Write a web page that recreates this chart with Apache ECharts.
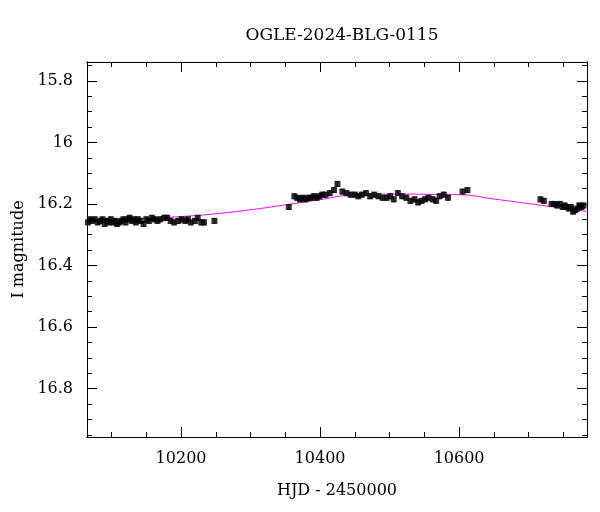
<!DOCTYPE html>
<html><head><meta charset="utf-8">
<script src="https://cdn.jsdelivr.net/npm/echarts@6/dist/echarts.min.js"></script>
<style>html,body{margin:0;padding:0;background:#fff}#c{width:600px;height:512px}</style>
</head><body><div id="c"></div>
<script>
const hjd = [10066,10069,10072,10076,10080,10084,10087,10090,10093,10096,10099,10102,10105,10108,10111,10114,10117,10120,10123,10126,10129,10132,10135,10138,10141,10146,10150,10154,10158,10162,10166,10170,10176,10180,10185,10190,10196,10201,10206,10210,10214,10220,10224,10229,10233,10248,
10355,10363,10367,10371,10375,10379,10383,10387,10391,10395,10399,10403,10408,10414,10420,10425,10432,10438,10444,10450,10455,10460,10466,10472,10478,10484,10490,10496,10501,10506,10512,10518,10524,10530,10536,10541,10546,10551,10556,10562,10567,10572,10578,10584,10605,10612,
10717,10722,10733,10737,10741,10745,10749,10752,10755,10758,10761,10764,10767,10770,10773,10776,10779];
const mag = [16.26,16.25,16.255,16.25,16.26,16.255,16.25,16.265,16.255,16.26,16.25,16.26,16.255,16.265,16.26,16.255,16.25,16.26,16.25,16.245,16.255,16.25,16.26,16.25,16.255,16.265,16.25,16.255,16.245,16.25,16.255,16.25,16.245,16.245,16.255,16.26,16.255,16.25,16.255,16.25,16.26,16.255,16.245,16.26,16.26,16.255,
16.21,16.175,16.18,16.185,16.18,16.185,16.18,16.18,16.175,16.18,16.175,16.17,16.17,16.165,16.155,16.135,16.16,16.165,16.17,16.17,16.175,16.17,16.165,16.175,16.17,16.175,16.18,16.18,16.175,16.185,16.165,16.175,16.18,16.19,16.185,16.195,16.19,16.185,16.18,16.185,16.19,16.175,16.17,16.18,16.16,16.155,
16.185,16.19,16.2,16.2,16.205,16.2,16.21,16.205,16.21,16.215,16.21,16.225,16.22,16.215,16.205,16.21,16.205];
const err = 0.008;
const modelT = [10060,10100,10150,10200,10250,10300,10350,10400,10440,10480,10520,10560,10600,10650,10700,10750,10790];
const modelM = [16.252,16.251,16.247,16.241,16.232,16.219,16.203,16.186,16.172,16.168,16.168,16.169,16.17,16.184,16.199,16.214,16.226];
const yMajor=[15.8,16,16.2,16.4,16.6,16.8], xMajor=[10200,10400,10600];
const yMinor=[],xMinor=[];
for(let v=15.75;v<16.96;v+=0.05)yMinor.push(+v.toFixed(2));
for(let v=10100;v<=10750;v+=50)xMinor.push(v);
const XMIN=10064.7,XMAX=10784,YMIN=15.739,YMAX=16.957;
const font='"DejaVu Serif", "Liberation Serif", serif';
function xa(pos,ticks,len,labels){return{type:'value',position:pos,min:XMIN,max:XMAX,
 axisLine:{show:true,onZero:false,lineStyle:{color:'#000',width:1}},
 axisTick:{show:true,inside:true,length:len,customValues:ticks,lineStyle:{color:'#000'}},
 axisLabel:{show:labels,customValues:ticks,color:'#000',fontFamily:font,fontSize:16,margin:14,formatter:v=>String(Math.round(v))},
 splitLine:{show:false},
 name:labels?'HJD - 2450000':'',nameLocation:'middle',nameGap:46,nameTextStyle:{color:'#000',fontFamily:font,fontSize:16}};}
function ya(pos,ticks,len,labels){return{type:'value',position:pos,inverse:true,min:YMIN,max:YMAX,
 axisLine:{show:true,onZero:false,lineStyle:{color:'#000',width:1}},
 axisTick:{show:true,inside:true,length:len,customValues:ticks,lineStyle:{color:'#000'}},
 axisLabel:{show:labels,customValues:ticks,color:'#000',fontFamily:font,fontSize:16,margin:14,formatter:v=>String(+v.toFixed(2))},
 splitLine:{show:false},
 name:labels?'I magnitude':'',nameLocation:'middle',nameGap:60,nameRotate:90,nameTextStyle:{color:'#000',fontFamily:font,fontSize:16}};}
const chart=echarts.init(document.getElementById('c'));
chart.setOption({
 animation:false,
 title:{text:'OGLE-2024-BLG-0115',left:337,top:22,textAlign:'center',textStyle:{fontFamily:font,fontWeight:'normal',fontSize:17,color:'#000'}},
 grid:{left:87,right:13,top:62,bottom:75},
 xAxis:[xa('bottom',xMajor,10,true),xa('bottom',xMinor,5,false),xa('top',xMajor,10,false),xa('top',xMinor,5,false)],
 yAxis:[ya('left',yMajor,10,true),ya('left',yMinor,5,false),ya('right',yMajor,10,false),ya('right',yMinor,5,false)],
 series:[
  {type:'line',data:modelT.map((t,i)=>[t,modelM[i]]),smooth:true,showSymbol:false,lineStyle:{color:'#ff00ff',width:1},clip:true,z:1},
  {type:'custom',clip:true,data:hjd.map((t,i)=>[t,mag[i]]),z:2,
   renderItem:(p,api)=>{const x=api.value(0),y=api.value(1);const a=api.coord([x,y-err]),b=api.coord([x,y+err]);
    return{type:'group',children:[
     {type:'line',shape:{x1:a[0],y1:a[1],x2:b[0],y2:b[1]},style:{stroke:'#555',lineWidth:1}},
     {type:'line',shape:{x1:a[0]-2,y1:a[1],x2:a[0]+2,y2:a[1]},style:{stroke:'#555',lineWidth:1}},
     {type:'line',shape:{x1:b[0]-2,y1:b[1],x2:b[0]+2,y2:b[1]},style:{stroke:'#555',lineWidth:1}}]};}},
  {type:'scatter',data:hjd.map((t,i)=>[t,mag[i]]),symbol:'rect',symbolSize:6,itemStyle:{color:'#000'},z:3}
 ]
});
</script></body></html>
